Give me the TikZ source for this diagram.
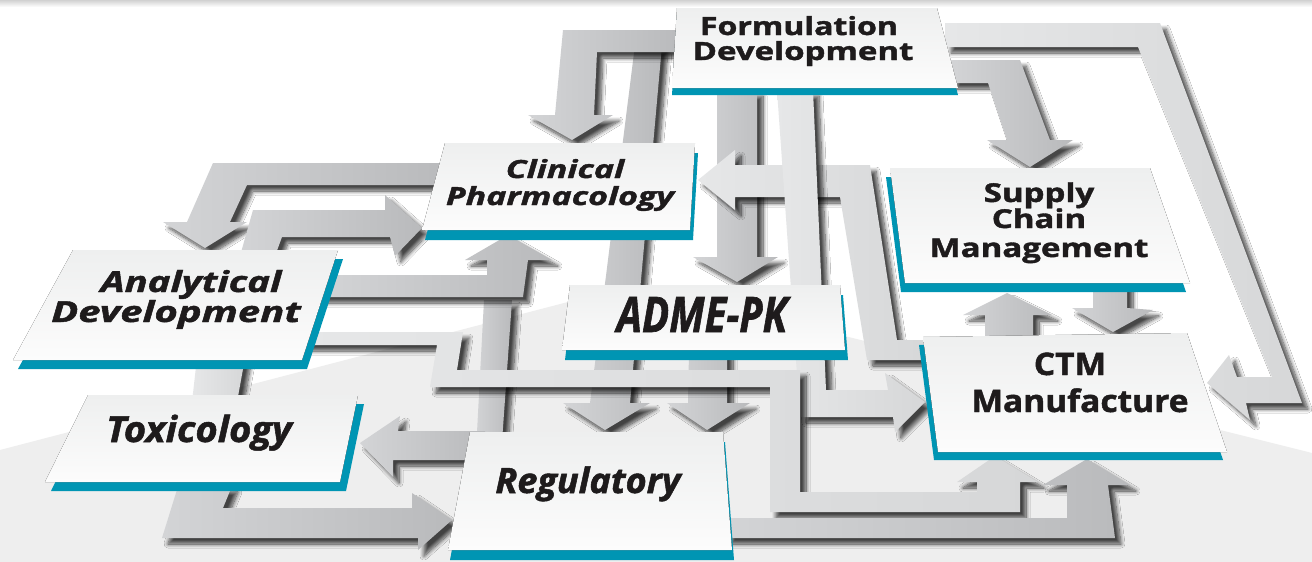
\documentclass[tikz,border=0pt]{standalone}
\usepackage{fontspec}
\setmainfont{Open Sans}[BoldFeatures={FakeBold=1.4},BoldItalicFeatures={FakeBold=1.4}]
\usepackage{graphicx}
\usetikzlibrary{shadows.blur}

\definecolor{boxteal}{HTML}{0095B3}
\definecolor{ink}{HTML}{1E1B1C}
\definecolor{arA}{HTML}{D3D4D6}
\definecolor{arB}{HTML}{B9BABC}
\definecolor{arC}{HTML}{E6E7E8}
\definecolor{arD}{HTML}{D6D7D8}
\definecolor{faceT}{HTML}{EEEFEF}
\definecolor{faceB}{HTML}{FCFCFC}
\definecolor{floor}{HTML}{EEEEEE}

% a flat card: teal rim (offset copy) under a light face
\newcommand\boxpanel[2]{%
  \fill[rim,shift={(#2)}] #1 -- cycle;
  \fill[face] #1 -- cycle;}

\begin{document}
\begin{tikzpicture}[x=1pt,y=-1pt,
  band/.style={draw=none,left color=arA,right color=arB,
    blur shadow={shadow xshift=6pt,shadow yshift=-6pt,shadow blur radius=4pt,
                 shadow blur steps=10,shadow opacity=72}},
  paleband/.style={band,left color=arC,right color=arD},
  face/.style={draw=none,top color=faceT,bottom color=faceB},
  rim/.style={fill=boxteal,draw=none},
  lbl/.style={anchor=base,inner sep=0pt,text=ink},
]
\useasboundingbox (0,0) rectangle (1312,562);

% ---- background and floor ----
\fill[white] (0,0) rectangle (1312,562);
\fill[floor] (0,450) -- (637,284) -- (1312,453) -- (1312,562) -- (0,562) -- cycle;
\shade[top color=black!18,bottom color=white] (0,0) rectangle (1312,7);

% ---- arrows, back to front ----
% Formulation -> Regulatory (long vertical)
\path[band] (635,45) -- (662,45) -- (630,403) -- (650,403) -- (605,430) -- (563,403) -- (590,403) -- cycle;
% ADME-PK -> Regulatory
\path[band] (690,300) -- (727,300) -- (727,403) -- (750,403) -- (707,430) -- (667,403) -- (688,403) -- cycle;
% Formulation -> Clinical Pharmacology
\path[band] (680,30) -- (563,30) -- (555,115) -- (528,115) -- (572,140) -- (613,115) -- (594,115) -- (597,52) -- (680,52) -- cycle;
% Formulation -> ADME-PK
\path[band] (717,90) -- (757,90) -- (757,257) -- (778,257) -- (737,282) -- (693,257) -- (717,257) -- cycle;
% CTM Manufacture -> Clinical Pharmacology
\path[paleband] (698,180) -- (735,150) -- (735,165) -- (870,165) -- (897,340) -- (935,340) -- (935,360) -- (867,360) -- (840,197) -- (735,197) -- (735,210) -- cycle;
% Formulation -> CTM Manufacture (side)
\path[paleband] (777,90) -- (813,90) -- (826,390) -- (888,390) -- (885,373) -- (925,402) -- (895,432) -- (893,417) -- (800,417) -- cycle;
% Clinical Pharmacology -> Analytical Development
\path[band] (445,163) -- (213,163) -- (187,222) -- (163,222) -- (205,248) -- (247,222) -- (230,222) -- (247,185) -- (445,185) -- cycle;
% Analytical Development -> Clinical Pharmacology
\path[band] (240,256) -- (253,210) -- (385,210) -- (385,195) -- (422,228) -- (395,256) -- (390,237) -- (282,237) -- (275,256) -- cycle;
% riser under Clinical Pharmacology
\path[band] (484,300) -- (512,300) -- (500,470) -- (475,470) -- cycle;
% Analytical Development -> Clinical Pharmacology (lower)
\path[band] (320,275) -- (487,275) -- (487,260) -- (465,260) -- (508,235) -- (552,260) -- (528,260) -- (523,297) -- (320,297) -- cycle;
% Regulatory -> Toxicology
\path[band] (485,431) -- (398,431) -- (400,416) -- (360,443) -- (393,477) -- (393,460) -- (485,460) -- cycle;
% Analytical Development -> CTM Manufacture
\path[paleband] (300,332) -- (463,332) -- (457,370) -- (800,370) -- (800,492) -- (977,492) -- (977,482) -- (957,482) -- (995,456) -- (1038,482) -- (1020,482) -- (1020,512) -- (770,512) -- (770,387) -- (430,387) -- (437,345) -- (300,345) -- cycle;
% Regulatory -> CTM Manufacture
\path[band] (725,518) -- (1067,518) -- (1067,485) -- (1043,485) -- (1087,459) -- (1130,485) -- (1108,485) -- (1115,538) -- (725,538) -- cycle;
% Toxicology -> Regulatory
\path[band] (180,480) -- (232,486) -- (223,508) -- (412,508) -- (412,493) -- (452,520) -- (418,550) -- (418,538) -- (162,538) -- cycle;
% Analytical Development -> Toxicology
\path[paleband] (197,358) -- (245,358) -- (237,402) -- (192,402) -- cycle;
% Formulation -> Supply Chain
\path[band] (950,60) -- (1020,60) -- (1050,140) -- (1073,140) -- (1030,167) -- (987,140) -- (1007,140) -- (988,83) -- (950,83) -- cycle;
% Formulation -> CTM Manufacture (outer loop)
\path[paleband] (945,23) -- (1160,23) -- (1302,403) -- (1246,403) -- (1250,420) -- (1207,383) -- (1229,355) -- (1237,377) -- (1272,377) -- (1138,47) -- (945,47) -- cycle;
% CTM Manufacture <-> Supply Chain
\path[band] (985,345) -- (985,315) -- (963,315) -- (1007,293) -- (1052,315) -- (1033,315) -- (1033,345) -- cycle;
\path[band] (1093,280) -- (1127,280) -- (1127,308) -- (1153,310) -- (1113,332) -- (1072,308) -- (1093,308) -- cycle;

% ---- cards ----
\boxpanel{(677,8) -- (937,8) -- (958,88) -- (672,88)}{0,7}
\boxpanel{(445,143) -- (695,143) -- (690,230) -- (422,230)}{3,10}
\boxpanel{(890,168) -- (1150,168) -- (1190,283) -- (905,283)}{-4,9}
\boxpanel{(73,250) -- (338,250) -- (302,360) -- (13,360)}{5,9}
\boxpanel{(88,395) -- (358,395) -- (340,482) -- (45,482)}{6,9}
\boxpanel{(570,285) -- (840,285) -- (845,350) -- (562,350)}{3,10}
\boxpanel{(470,432) -- (723,432) -- (732,550) -- (448,550)}{2,10}
\boxpanel{(923,337) -- (1187,333) -- (1227,452) -- (938,452)}{-4,8}

% ---- labels ----
\node[lbl,font=\bfseries\fontsize{25}{30}\selectfont] (fd1) at (799,35) {\scalebox{1.28}[1]{Formulation}};
\node[lbl,font=\bfseries\fontsize{25}{30}\selectfont] (fd2) at (803,60) {\scalebox{1.32}[1]{Development}};
\node[lbl,font=\bfseries\itshape\fontsize{25}{30}\selectfont] (cp1) at (565,178) {\scalebox{1.36}[1]{Clinical}};
\node[lbl,font=\bfseries\itshape\fontsize{25}{30}\selectfont] (cp2) at (560,205) {\scalebox{1.36}[1]{Pharmacology}};
\node[lbl,font=\bfseries\fontsize{26}{30}\selectfont] (sc1) at (1039,202) {\scalebox{1.27}[1]{Supply}};
\node[lbl,font=\bfseries\fontsize{26}{30}\selectfont] (sc2) at (1039,228) {\scalebox{1.27}[1]{Chain}};
\node[lbl,font=\bfseries\fontsize{26}{30}\selectfont] (sc3) at (1039,257) {\scalebox{1.27}[1]{Management}};
\node[lbl,font=\bfseries\itshape\fontsize{29}{32}\selectfont] (ad1) at (191,292) {\scalebox{1.32}[1]{Analytical}};
\node[lbl,font=\bfseries\itshape\fontsize{29}{32}\selectfont] (ad2) at (176,322) {\scalebox{1.38}[1]{Development}};
\node[lbl,font=\bfseries\itshape\fontsize{36}{40}\selectfont] (tox) at (199,442) {\scalebox{1.06}[1]{Toxicology}};
\node[lbl,font=\bfseries\itshape\fontsize{49}{54}\selectfont] (adme) at (702,332) {\scalebox{0.82}[1]{ADME-PK}};
\node[lbl,font=\bfseries\itshape\fontsize{35}{40}\selectfont] (reg) at (588,493) {\scalebox{1.03}[1]{Regulatory}};
\node[lbl,font=\bfseries\fontsize{31}{36}\selectfont] (ctm1) at (1070,375) {\scalebox{1.08}[1]{CTM}};
\node[lbl,font=\bfseries\fontsize{31}{36}\selectfont] (ctm2) at (1080,412) {\scalebox{1.08}[1]{Manufacture}};
\end{tikzpicture}
\end{document}
